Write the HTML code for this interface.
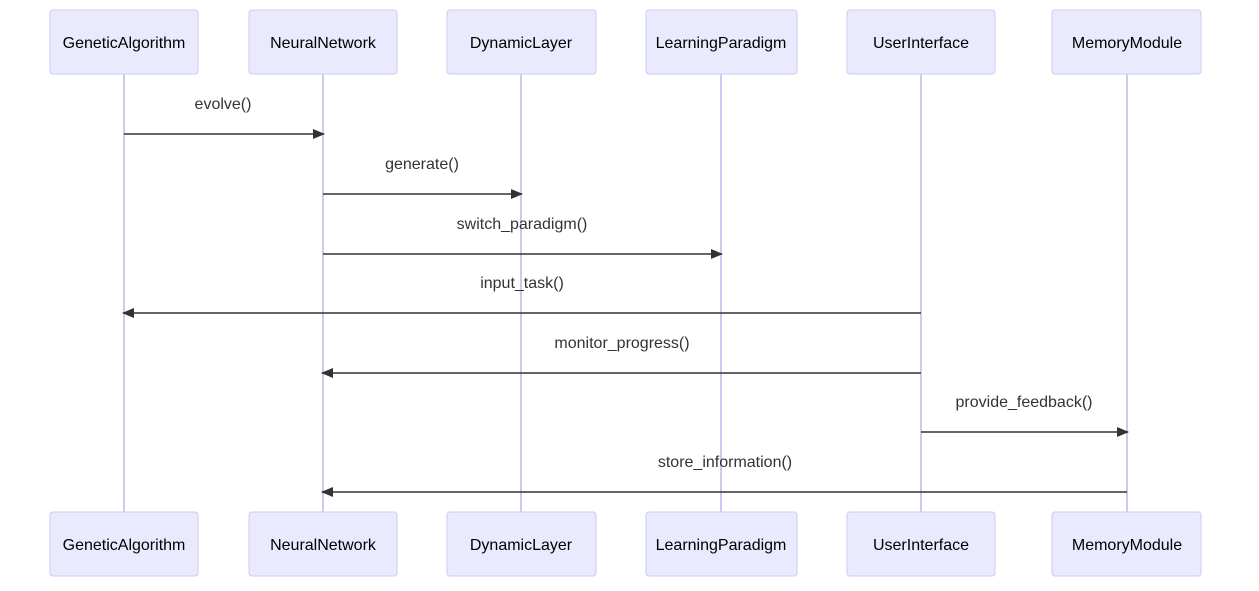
<!DOCTYPE html>
<html><head><meta charset="utf-8"><style>
html,body{margin:0;padding:0;background:#fff;}
svg{display:block;font-family:"Liberation Sans",Arial,sans-serif;}
</style></head><body>
<svg width="1259" height="591" viewBox="0 0 1259 591" xmlns="http://www.w3.org/2000/svg">
<defs><marker id="a" markerWidth="12" markerHeight="12" refX="11" refY="6" orient="auto" markerUnits="userSpaceOnUse"><path d="M0,1 L12,6 L0,11 z" fill="#333"/></marker></defs>
<g stroke="#d0c8f0" stroke-width="2">
<line x1="124" y1="74" x2="124" y2="512"/>
<line x1="323" y1="74" x2="323" y2="512"/>
<line x1="521" y1="74" x2="521" y2="512"/>
<line x1="721" y1="74" x2="721" y2="512"/>
<line x1="921" y1="74" x2="921" y2="512"/>
<line x1="1127" y1="74" x2="1127" y2="512"/>
</g>
<g fill="#eaeaff" stroke="#d0c8f0" stroke-width="1">
<rect x="50" y="10" width="148" height="64" rx="3"/><rect x="249" y="10" width="148" height="64" rx="3"/><rect x="447" y="10" width="149" height="64" rx="3"/><rect x="646" y="10" width="151" height="64" rx="3"/><rect x="847" y="10" width="148" height="64" rx="3"/><rect x="1052" y="10" width="149" height="64" rx="3"/>
<rect x="50" y="512" width="148" height="64" rx="3"/><rect x="249" y="512" width="148" height="64" rx="3"/><rect x="447" y="512" width="149" height="64" rx="3"/><rect x="646" y="512" width="151" height="64" rx="3"/><rect x="847" y="512" width="148" height="64" rx="3"/><rect x="1052" y="512" width="149" height="64" rx="3"/>
</g>
<g font-size="16" fill="#000" text-anchor="middle">
<text x="124" y="48">GeneticAlgorithm</text><text x="323" y="48">NeuralNetwork</text><text x="521" y="48">DynamicLayer</text><text x="721" y="48">LearningParadigm</text><text x="921" y="48">UserInterface</text><text x="1127" y="48">MemoryModule</text>
<text x="124" y="550">GeneticAlgorithm</text><text x="323" y="550">NeuralNetwork</text><text x="521" y="550">DynamicLayer</text><text x="721" y="550">LearningParadigm</text><text x="921" y="550">UserInterface</text><text x="1127" y="550">MemoryModule</text>
</g>
<g stroke="#333" stroke-width="1.5" marker-end="url(#a)">
<line x1="124" y1="134" x2="324" y2="134"/>
<line x1="323" y1="194" x2="522" y2="194"/>
<line x1="323" y1="254" x2="722" y2="254"/>
<line x1="921" y1="313" x2="123" y2="313"/>
<line x1="921" y1="373" x2="322" y2="373"/>
<line x1="921" y1="432" x2="1128" y2="432"/>
<line x1="1127" y1="492" x2="322" y2="492"/>
</g>
<g font-size="16" fill="#333" text-anchor="middle">
<text x="223" y="109">evolve()</text>
<text x="422" y="169">generate()</text>
<text x="522" y="229">switch_paradigm()</text>
<text x="522" y="288">input_task()</text>
<text x="622" y="348">monitor_progress()</text>
<text x="1024" y="407">provide_feedback()</text>
<text x="725" y="467">store_information()</text>
</g>
</svg>
</body></html>
